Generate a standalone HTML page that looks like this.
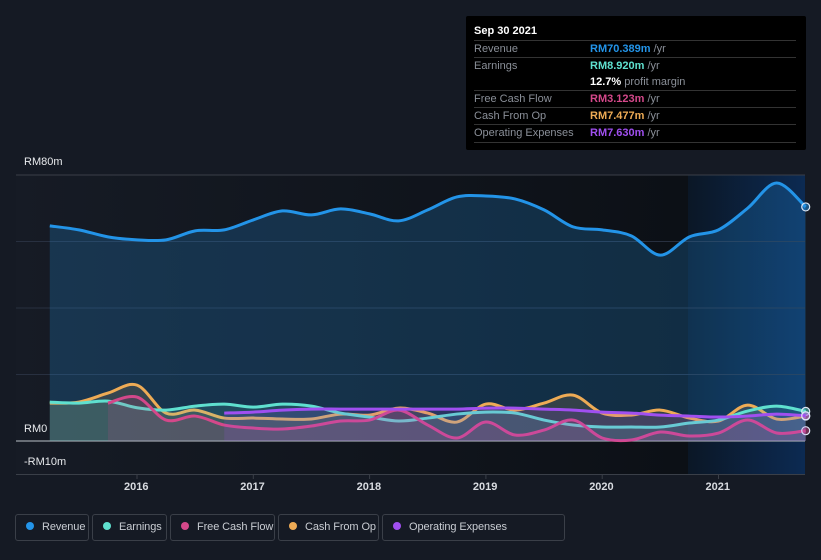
<!DOCTYPE html>
<html><head><meta charset="utf-8">
<style>
body{margin:0;background:#151a24;font-family:"Liberation Sans",sans-serif;}
#wrap{position:relative;width:821px;height:560px;overflow:hidden;background:#151a24;}
.tip{position:absolute;left:466px;top:16px;width:340px;height:134px;background:#000;border-radius:2px;font-size:11px;color:#8a8f98;}
.tip .row{position:absolute;left:8px;right:10px;border-top:1px solid #333;height:17px;line-height:17px;}
.tip .v{position:absolute;left:116px;}
.leg{position:absolute;top:514px;height:27px;border:1px solid #3a3f48;border-radius:3px;color:#c8ccd2;font-size:11px;line-height:25px;box-sizing:border-box;white-space:nowrap;overflow:hidden;letter-spacing:-0.1px;}
.leg i{display:inline-block;width:8px;height:8px;border-radius:50%;margin:0 8px 0 10px;vertical-align:0px;}
.ax{position:absolute;color:#e8eaed;font-size:11px;}
</style></head><body>
<div id="wrap">
<svg id="svg" width="821" height="560" style="position:absolute;left:0;top:0">
<defs>
<linearGradient id="bg" x1="0" x2="1" y1="0" y2="0"><stop offset="0" stop-color="#161b25"/><stop offset="1" stop-color="#0c1016"/></linearGradient>
<linearGradient id="hl" x1="0" x2="1" y1="0" y2="0"><stop offset="0" stop-color="#0b1726"/><stop offset="1" stop-color="#0c2a52"/></linearGradient>
</defs>
<rect x="16" y="175" width="672" height="299" fill="url(#bg)"/>
<rect x="688" y="175" width="117" height="299" fill="url(#hl)"/>
<g id="grid"></g>
<g id="series"></g>
</svg>
<div class="ax" style="left:24px;top:156px">RM80m</div>
<div class="ax" style="left:24px;top:423px">RM0</div>
<div class="ax" style="left:24px;top:456px">-RM10m</div>
<div id="xlabels"></div>
<div class="tip">
<div style="position:absolute;left:8px;top:9px;color:#fff;font-size:11px;font-weight:bold">Sep 30 2021</div>
<div class="row" style="top:24px">Revenue<span class="v"><b style="color:#2394e8">RM70.389m</b> /yr</span></div>
<div class="row" style="top:41px">Earnings<span class="v"><b style="color:#5fe0cf">RM8.920m</b> /yr</span></div>
<div class="row" style="top:58px;border-top:none"><span class="v"><b style="color:#fff">12.7%</b> profit margin</span></div>
<div class="row" style="top:74px">Free Cash Flow<span class="v"><b style="color:#d4488a">RM3.123m</b> /yr</span></div>
<div class="row" style="top:91px">Cash From Op<span class="v"><b style="color:#eeab55">RM7.477m</b> /yr</span></div>
<div class="row" style="top:108px;border-bottom:1px solid #333">Operating Expenses<span class="v"><b style="color:#a04ff0">RM7.630m</b> /yr</span></div>
</div>
<div class="leg" style="left:15px;width:74px"><i style="background:#2394e8"></i>Revenue</div>
<div class="leg" style="left:92px;width:75px"><i style="background:#5fe0cf"></i>Earnings</div>
<div class="leg" style="left:170px;width:105px"><i style="background:#d4488a"></i>Free Cash Flow</div>
<div class="leg" style="left:278px;width:101px"><i style="background:#eeab55"></i>Cash From Op</div>
<div class="leg" style="left:382px;width:183px"><i style="background:#a04ff0"></i>Operating Expenses</div>
</div>
<script>
const revenue=[64.7,63.5,61.4,60.5,60.5,63.2,63.5,66.5,69.2,68,69.8,68.3,66.2,69.5,73.4,73.7,72.8,69.5,64.4,63.5,61.7,55.9,61.4,63.5,70,77.6,70.4];
const earnings=[11.7,11.4,12,10,9.3,10.5,11.1,10.2,11.1,10.5,8.4,7.2,6,6.9,8.1,8.7,8.4,6.3,4.8,4.2,4.2,4.2,5.4,6.3,9,10.5,8.9];
const fcf=[11.4,13.2,6.3,7.5,4.8,3.9,3.6,4.5,6,6.3,9.3,4.8,0.9,5.7,1.8,3.3,6.3,0.9,0.3,2.7,1.5,2.4,6.3,2.4,3.1];
const cfo=[11.4,11.7,14.4,16.8,8.4,9.3,6.9,6.9,6.6,6.6,8.1,7.8,9.9,8.4,5.7,11.1,9.3,11.4,13.8,8.4,7.8,9.3,6.9,6,10.8,6.6,7.5];
const opex=[8.4,8.7,9.3,9.6,9.6,9.6,9.6,9.6,9.6,9.9,9.9,9.6,9.3,8.7,8.4,7.8,7.5,7.2,7.5,8.1,7.6];
const yTicks=[80,60,40,20,0];
const xTicks=[2016,2017,2018,2019,2020,2021];
const startYear=2015.25, endYear=2021.75;
const X=t=>137+(t-2016)*116.3;
const Y=v=>441-v*3.325;
const NS='http://www.w3.org/2000/svg';
const grid=document.getElementById('grid'), ser=document.getElementById('series');
yTicks.forEach(v=>{const l=document.createElementNS(NS,'line');


l.setAttribute('x1',16);l.setAttribute('x2',805);l.setAttribute('y1',Y(v));l.setAttribute('y2',Y(v));
l.setAttribute('stroke',v===0?'#9aa0a8':(v===80?'#3a3f48':'#283040'));l.setAttribute('stroke-width',v===0?1.2:1);grid.appendChild(l);});
const bl=document.createElementNS(NS,'line');


bl.setAttribute('x1',16);bl.setAttribute('x2',805);bl.setAttribute('y1',474.5);bl.setAttribute('y2',474.5);bl.setAttribute('stroke','#3a3f48');grid.appendChild(bl);
const xl=document.getElementById('xlabels');
xTicks.forEach(t=>{const tk=document.createElementNS(NS,'line');


tk.setAttribute('x1',X(t));tk.setAttribute('x2',X(t));tk.setAttribute('y1',474);tk.setAttribute('y2',479);tk.setAttribute('stroke','#3a3f48');grid.appendChild(tk);
const d=document.createElement('div');


d.className='ax';d.style.left=(X(t)-13)+'px';d.style.top='481px';d.style.fontWeight='bold';d.style.color='#d8dbe0';d.textContent=t;xl.appendChild(d);});
function pts(arr){const s=endYear-(arr.length-1)*0.25;return arr.map((v,i)=>[X(s+i*0.25),Y(v)]);}
function path(p){let d='M'+p[0][0]+','+p[0][1];for(let i=0;i<p.length-1;i++){const p0=p[i-1]||p[i],p1=p[i],p2=p[i+1],p3=p[i+2]||p2;
d+=' C'+(p1[0]+(p2[0]-p0[0])/6)+','+(p1[1]+(p2[1]-p0[1])/6)+' '+(p2[0]-(p3[0]-p1[0])/6)+','+(p2[1]-(p3[1]-p1[1])/6)+' '+p2[0]+','+p2[1];}return d;}
function draw(arr,color,fillOp,name){const p=pts(arr);const d=path(p);
const f=document.createElementNS(NS,'path');


f.setAttribute('d',d+' L'+p[p.length-1][0]+','+Y(0)+' L'+p[0][0]+','+Y(0)+'Z');f.setAttribute('fill',color);f.setAttribute('fill-opacity',fillOp);ser.appendChild(f);
const l=document.createElementNS(NS,'path');


l.setAttribute('d',d);l.setAttribute('fill','none');l.setAttribute('stroke',color);l.setAttribute('stroke-width',3);ser.appendChild(l);
const c=document.createElementNS(NS,'circle');


const e=p[p.length-1];c.setAttribute('cx',e[0]);c.setAttribute('cy',e[1]);c.setAttribute('r',4);c.setAttribute('fill',color);c.setAttribute('fill-opacity',0.5);c.setAttribute('stroke','#dfe8f5');c.setAttribute('stroke-width',1.2);ser.appendChild(c);}
draw(revenue,'#2394e8',0.22,'revenue');
draw(cfo,'#eeab55',0.15,'cash-from-op');
draw(earnings,'#5fe0cf',0.15,'earnings');
draw(fcf,'#d4488a',0.15,'free-cash-flow');
draw(opex,'#a04ff0',0.15,'operating-expenses');
</script>
</body></html>
